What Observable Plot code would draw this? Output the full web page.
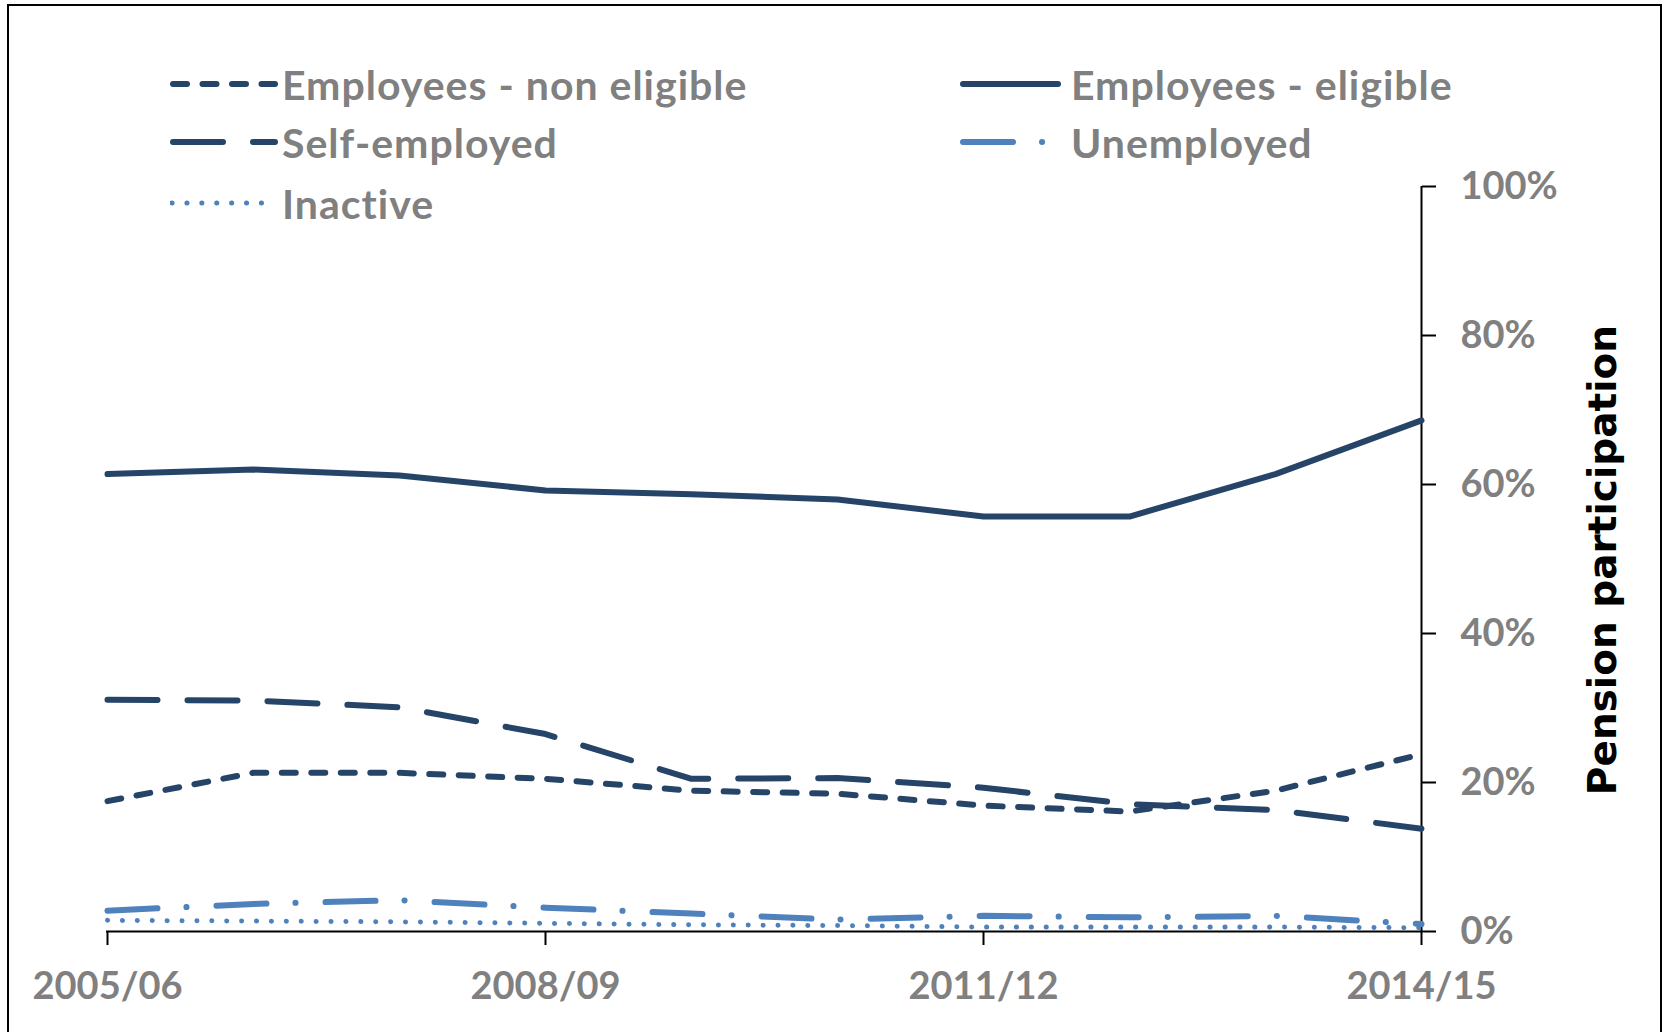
<!DOCTYPE html>
<html>
<head>
<meta charset="utf-8">
<script src="https://cdn.jsdelivr.net/npm/d3@7"></script>
<script src="https://cdn.jsdelivr.net/npm/@observablehq/plot@0.6"></script>
<style>
  html, body { margin: 0; padding: 0; background: #fff; }
  #wrap { position: relative; width: 1663px; height: 1032px; overflow: hidden; background: #fff; }
  #frame { position: absolute; left: 7px; top: 4px; width: 1655px; height: 1100px; border: 2.5px solid #000; box-sizing: border-box; pointer-events: none; }
  #chart { position: absolute; left: 0; top: 0; }
  .leg { position: absolute; height: 50px; display: flex; align-items: center; font-family: Lato, sans-serif; font-weight: 700; font-size: 41px; letter-spacing: 1px; color: #808080; white-space: nowrap; }
  .leg svg { display: block; margin-right: 4px; }
  #ylabel { position: absolute; left: 0; top: 0; }
</style>
</head>
<body>
<div id="wrap">
  <div id="chart"></div>
  <div id="legend"></div>
  <svg id="ylabel" width="1663" height="1032"></svg>
  <div id="frame"></div>
</div>
<script>
// ---- data ----
const years = ["2005/06","2006/07","2007/08","2008/09","2009/10","2010/11","2011/12","2012/13","2013/14","2014/15"];
const xTickLabels = ["2005/06","2008/09","2011/12","2014/15"];
const yTicks = [0, 20, 40, 60, 80, 100];
const employeesNonEligible = [17.5, 21.3, 21.3, 20.5, 18.9, 18.5, 16.9, 16.1, 18.9, 23.8];
const employeesEligible   = [61.4, 62.0, 61.2, 59.2, 58.7, 58.0, 55.7, 55.7, 61.4, 68.6];
const selfEmployed        = [31.1, 31.0, 30.1, 26.5, 20.5, 20.6, 19.3, 17.1, 16.3, 13.8];
const unemployed          = [2.8, 3.7, 4.2, 3.2, 2.4, 1.6, 2.1, 1.9, 2.1, 1.0];
const inactive            = [1.5, 1.4, 1.3, 1.1, 0.9, 0.8, 0.6, 0.6, 0.6, 0.5];
const yLabel = "Pension participation";

// ---- styles ----
const dark = "#264468";
const light = "#4F81BD";
const series = [
  {name: "Employees - non eligible", values: employeesNonEligible, color: dark,  width: 6, dash: "14 15.5"},
  {name: "Employees - eligible",     values: employeesEligible,    color: dark,  width: 6, dash: null},
  {name: "Self-employed",            values: selfEmployed,         color: dark,  width: 6, dash: "50 30"},
  {name: "Unemployed",               values: unemployed,           color: light, width: 6, dash: "50 29 0.1 30"},
  {name: "Inactive",                 values: inactive,             color: light, width: 5, dash: "0.1 14.8"}
];

const lineMarks = series.map(s => Plot.line(
  years.map((y, i) => ({year: y, value: s.values[i]})),
  {x: "year", y: "value", stroke: s.color, strokeWidth: s.width,
   strokeDasharray: s.dash || undefined, strokeLinecap: "round", strokeLinejoin: "round"}
));

const chart = Plot.plot({
  width: 1663,
  height: 1032,
  marginLeft: 106,
  marginRight: 242,
  marginTop: 186,
  marginBottom: 101,
  x: {type: "point", domain: years, padding: 0},
  y: {domain: [0, 100]},
  style: {background: "transparent", fontFamily: "Lato, sans-serif", fontWeight: 700, fontSize: "38px", color: "#808080", overflow: "visible"},
  marks: [
    Plot.ruleY([0], {stroke: "black", strokeWidth: 2}),
    Plot.ruleX([years[years.length - 1]], {stroke: "black", strokeWidth: 2}),
    Plot.axisX({ticks: xTickLabels, tickSize: 14, tickPadding: 27, stroke: "black", strokeWidth: 2, fill: "#808080", label: null}),
    Plot.axisY({anchor: "right", ticks: yTicks, tickSize: 14, tickPadding: 25, tickFormat: d => d + "%", stroke: "black", strokeWidth: 2, fill: "#808080", label: null}),
    ...lineMarks
  ]
});
document.getElementById("chart").appendChild(chart);

// ---- legend ----
const legendLayout = [
  {i: 0, left: 170, cy: 84, w: 108, x2: 105},
  {i: 1, left: 960, cy: 84, w: 107, x2: 98},
  {i: 2, left: 170, cy: 142, w: 108, x2: 105},
  {i: 3, left: 960, cy: 142, w: 107, x2: 98},
  {i: 4, left: 170, cy: 203, w: 108, x2: 95}
];
const legend = document.getElementById("legend");
const ns = "http://www.w3.org/2000/svg";
legendLayout.forEach(l => {
  const s = series[l.i];
  const row = document.createElement("div");
  row.className = "leg";
  row.style.left = l.left + "px";
  row.style.top = (l.cy - 25) + "px";
  const svg = document.createElementNS(ns, "svg");
  svg.setAttribute("width", l.w);
  svg.setAttribute("height", 12);
  const ln = document.createElementNS(ns, "line");
  ln.setAttribute("x1", s.name === "Inactive" ? 2 : 3);
  ln.setAttribute("x2", l.x2);
  ln.setAttribute("y1", 6); ln.setAttribute("y2", 6);
  ln.setAttribute("stroke", s.color);
  ln.setAttribute("stroke-width", s.width);
  ln.setAttribute("stroke-linecap", "round");
  if (s.dash) ln.setAttribute("stroke-dasharray", s.dash);
  svg.appendChild(ln);
  row.appendChild(svg);
  const t = document.createElement("span");
  t.textContent = s.name;
  row.appendChild(t);
  legend.appendChild(row);
});

// ---- rotated axis title ----
const yl = document.getElementById("ylabel");
const txt = document.createElementNS(ns, "text");
txt.setAttribute("x", 1602);
txt.setAttribute("y", 560);
txt.setAttribute("transform", "rotate(-90 1602 560)");
txt.setAttribute("text-anchor", "middle");
txt.setAttribute("dominant-baseline", "central");
txt.setAttribute("font-family", "DejaVu Sans, sans-serif");
txt.setAttribute("font-weight", "bold");
txt.setAttribute("font-size", "39");
txt.setAttribute("fill", "#000");
txt.textContent = yLabel;
yl.appendChild(txt);
</script>
</body>
</html>
